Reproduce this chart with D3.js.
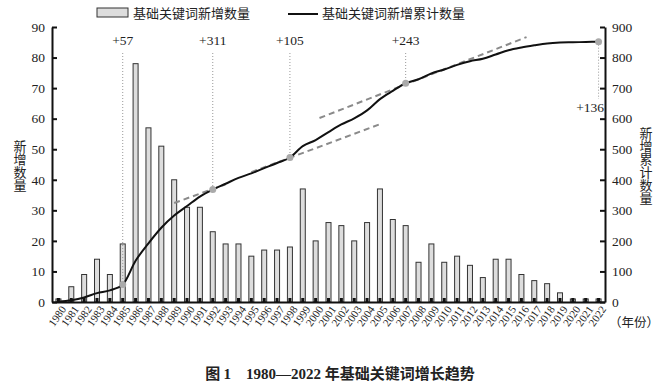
<!DOCTYPE html>
<html>
<head>
<meta charset="utf-8">
<script src="https://cdn.jsdelivr.net/npm/d3@7"></script>
<style>
body { margin: 0; background: #fff; }
svg text { font-family: "Liberation Serif", "Times New Roman", serif; fill: #222; }
svg text.cjk { font-family: "Noto Sans CJK SC", sans-serif; }
svg text.vert { writing-mode: vertical-rl; text-orientation: upright; }
</style>
</head>
<body>
<div id="chart"></div>
<script>
// years on the x axis
var years = [1980,1981,1982,1983,1984,1985,1986,1987,1988,1989,1990,1991,1992,1993,1994,1995,1996,1997,1998,1999,
             2000,2001,2002,2003,2004,2005,2006,2007,2008,2009,2010,2011,2012,2013,2014,2015,2016,2017,2018,2019,
             2020,2021,2022];
// new basic keywords per year (bars, left axis)
var newCounts = [1,5,9,14,9,19,78,57,51,40,31,31,23,19,19,15,17,17,18,37,
                 20,26,25,20,26,37,27,25,13,19,13,15,12,8,14,14,9,7,6,3,
                 1,1,1];
// cumulative count (line, right axis)
var cumCounts = [1,6,15,29,38,57,135,192,243,283,314,345,368,387,406,421,438,455,473,510,
                 530,556,581,601,627,664,691,716,729,748,761,776,788,796,810,824,833,840,846,849,
                 850,851,852];
// stage break points and increments
var stageYears = [1985, 1992, 1998, 2007, 2022];
var stageLabels = ["+57", "+311", "+105", "+243", "+136"];
// dashed trend segments (year, cumulative value)
var trendFromYear = [1989, 1995, 2000.3];
var trendFromVal = [324, 425, 602];
var trendToYear = [1993, 2005.2, 2016.4];
var trendToVal = [385, 585, 867];
var leftTicks = [0,10,20,30,40,50,60,70,80,90];
var rightTicks = [0,100,200,300,400,500,600,700,800,900];

var w = 660, h = 385;
var plotL = 52, plotR = 605, plotT = 27, plotB = 302;

var svg = d3.select("#chart").append("svg")
    .attr("width", w)
    .attr("height", h);

var x = d3.scaleBand().domain(years).range([plotL, plotR]);
var bw = x.bandwidth();
var xc = d3.scaleLinear().domain([1980, 2022]).range([x(1980) + bw / 2, x(2022) + bw / 2]);
var yL = d3.scaleLinear().domain([0, 90]).range([plotB, plotT]);
var yR = d3.scaleLinear().domain([0, 900]).range([plotB, plotT]);

// bars
svg.append("g").selectAll("rect")
    .data(years)
    .enter()
    .append("rect")
    .attr("x", function(d) { return x(d) + bw / 2 - 2.5; })
    .attr("y", function(d, i) { return yL(newCounts[i]); })
    .attr("width", 5)
    .attr("height", function(d, i) { return plotB - yL(newCounts[i]); })
    .attr("fill", "#dddddd")
    .attr("stroke", "#333")
    .attr("stroke-width", 1);

// dashed trend lines
svg.append("g").selectAll("line")
    .data(trendFromYear)
    .enter()
    .append("line")
    .attr("x1", function(d) { return xc(d); })
    .attr("y1", function(d, i) { return yR(trendFromVal[i]); })
    .attr("x2", function(d, i) { return xc(trendToYear[i]); })
    .attr("y2", function(d, i) { return yR(trendToVal[i]); })
    .attr("stroke", "#8a8a8a")
    .attr("stroke-width", 2)
    .attr("stroke-dasharray", "6,4");

// cumulative line
var line = d3.line()
    .x(function(d) { return xc(d); })
    .y(function(d, i) { return yR(cumCounts[i]); })
    .curve(d3.curveMonotoneX);

svg.append("path")
    .datum(years)
    .attr("d", line)
    .attr("fill", "none")
    .attr("stroke", "#111")
    .attr("stroke-width", 2);

// stage markers
function cumAt(yr) { return cumCounts[years.indexOf(yr)]; }

svg.append("g").selectAll("line")
    .data(stageYears)
    .enter()
    .append("line")
    .attr("x1", function(d) { return xc(d); })
    .attr("x2", function(d) { return xc(d); })
    .attr("y1", function(d, i) { return i < 4 ? 53 : yR(cumAt(d)); })
    .attr("y2", function(d, i) { return i < 4 ? yR(cumAt(d)) : 99; })
    .attr("stroke", "#999")
    .attr("stroke-width", 1)
    .attr("stroke-dasharray", "1,2");

svg.append("g").selectAll("circle")
    .data(stageYears)
    .enter()
    .append("circle")
    .attr("cx", function(d) { return xc(d); })
    .attr("cy", function(d) { return yR(cumAt(d)); })
    .attr("r", 3.5)
    .attr("fill", "#aaa");

svg.append("g").selectAll("text")
    .data(stageYears)
    .enter()
    .append("text")
    .text(function(d, i) { return stageLabels[i]; })
    .attr("x", function(d, i) { return i < 4 ? xc(d) : plotR - 1; })
    .attr("y", function(d, i) { return i < 4 ? 45 : 112; })
    .attr("text-anchor", function(d, i) { return i < 4 ? "middle" : "end"; })
    .attr("font-size", "13.5px");

// axes
var axL = svg.append("g")
    .attr("transform", "translate(" + plotL + ",0)")
    .call(d3.axisLeft(yL).tickValues(leftTicks).tickSize(-5).tickSizeOuter(0).tickPadding(7));
var axR = svg.append("g")
    .attr("transform", "translate(" + plotR + ",0)")
    .call(d3.axisRight(yR).tickValues(rightTicks).tickSize(-5).tickSizeOuter(0).tickPadding(7));
var axB = svg.append("g")
    .attr("transform", "translate(0," + plotB + ")")
    .call(d3.axisBottom(x).tickSize(-4).tickSizeOuter(0).tickPadding(0));

[axL, axR, axB].forEach(function(ax) {
    ax.select(".domain").attr("stroke", "#111").attr("stroke-width", 2);
    ax.selectAll(".tick line").attr("stroke", "#111").attr("stroke-width", 2);
    ax.selectAll("text").attr("font-family", "Liberation Serif").attr("fill", "#222");
});
axL.selectAll("text").attr("font-size", "13.5px");
axR.selectAll("text").attr("font-size", "13.5px");
axB.selectAll(".tick line").attr("stroke-width", 3);
axB.selectAll("text")
    .attr("font-size", "11px")
    .attr("y", 0)
    .attr("dy", "0.35em")
    .attr("transform", "translate(5,5) rotate(-55)")
    .style("text-anchor", "end");

// axis titles, written top to bottom
svg.append("text")
    .attr("class", "cjk vert")
    .text("新增数量")
    .attr("x", 20)
    .attr("y", 166)
    .attr("text-anchor", "middle")
    .attr("font-size", "13px")
    .attr("fill", "#333");

svg.append("text")
    .attr("class", "cjk vert")
    .text("新增累计数量")
    .attr("x", 646)
    .attr("y", 166)
    .attr("text-anchor", "middle")
    .attr("font-size", "13px")
    .attr("fill", "#333");

svg.append("text")
    .attr("class", "cjk")
    .text("（年份）")
    .attr("x", 609)
    .attr("y", 327)
    .attr("font-size", "12.5px")
    .attr("fill", "#333");

// legend
svg.append("rect")
    .attr("x", 97).attr("y", 8)
    .attr("width", 31).attr("height", 9)
    .attr("fill", "#dddddd")
    .attr("stroke", "#333");
svg.append("text")
    .attr("class", "cjk")
    .text("基础关键词新增数量")
    .attr("x", 133).attr("y", 18)
    .attr("font-size", "13px");
svg.append("line")
    .attr("x1", 288).attr("x2", 318)
    .attr("y1", 14).attr("y2", 14)
    .attr("stroke", "#111")
    .attr("stroke-width", 2);
svg.append("text")
    .attr("class", "cjk")
    .text("基础关键词新增累计数量")
    .attr("x", 322).attr("y", 18)
    .attr("font-size", "13px");

// caption
var cap = svg.append("text")
    .attr("x", 340).attr("y", 379)
    .attr("text-anchor", "middle")
    .attr("font-size", "15px")
    .attr("font-weight", "bold")
    .attr("fill", "#111");
cap.append("tspan").attr("class", "cjk").style("font-family", "Noto Sans CJK SC").text("图 ");
cap.append("tspan").text("1\u00a0\u00a0\u00a0\u00a01980—2022 ");
cap.append("tspan").style("font-family", "Noto Sans CJK SC").text("年基础关键词增长趋势");
</script>
</body>
</html>
